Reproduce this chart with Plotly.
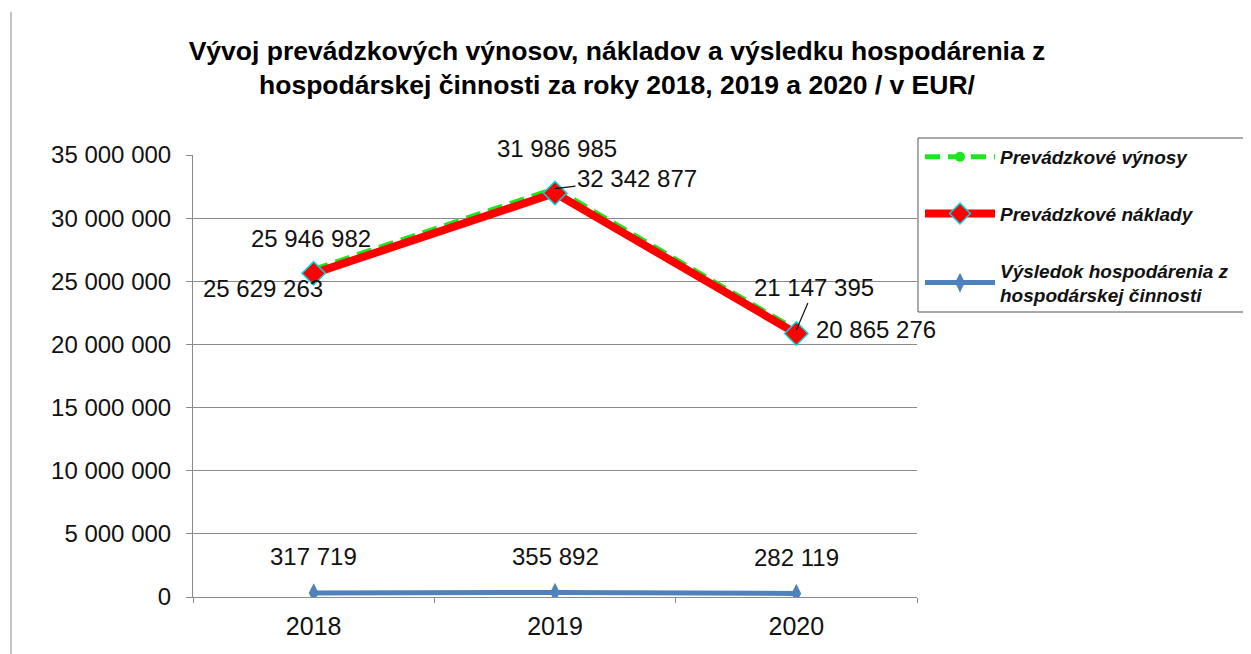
import plotly.graph_objects as go

years = ["2018", "2019", "2020"]
vynosy = [25946982, 32342877, 21147395]
naklady = [25629263, 31986985, 20865276]
vysledok = [317719, 355892, 282119]

names = ["Prevádzkové výnosy", "Prevádzkové náklady",
         "Výsledok hospodárenia z<br>hospodárskej činnosti"]
title_text = ("Vývoj prevádzkových výnosov, nákladov a výsledku hospodárenia z<br>"
              "hospodárskej činnosti za roky 2018, 2019 a 2020 / v EUR/")

FONT = "Liberation Sans, Arial, sans-serif"

# page body has an 8px margin; positions below are in figure pixels
L, R, T, B = 185, 909, 147, 589
W, H = 1251, 654
PW, PH = R - L, B - T


def fmt(v):
    return f"{v:,}".replace(",", " ")


fig = go.Figure()
fig.add_trace(go.Scatter(
    x=years, y=vynosy, name=names[0], mode="lines+markers", legendgroup="a",
    line=dict(color="#1ee61e", width=5, dash="15px,8px"),
    marker=dict(symbol="circle", size=10, color="#1ee61e"),
))
fig.add_trace(go.Scatter(
    x=years, y=naklady, name=names[1], mode="lines+markers", legendgroup="b",
    line=dict(color="#ff0000", width=8),
    marker=dict(symbol="diamond", size=18, color="#ff0000",
                line=dict(color="#00d8e0", width=1.5)),
))
fig.add_trace(go.Scatter(
    x=years, y=vysledok, name=names[2], mode="lines+markers", legendgroup="c",
    line=dict(color="#4f81bd", width=5),
    marker=dict(symbol="diamond-tall", size=14, color="#4f81bd"),
))

ann = []
lab_font = dict(family=FONT, size=24, color="#111111")
rev_pos = [dict(showarrow=False, xshift=-3, yshift=31),
           dict(showarrow=True, ax=82, ay=-10),
           dict(showarrow=True, ax=18, ay=-42)]
for i, (v, p) in enumerate(zip(vynosy, rev_pos)):
    a = dict(x=i, y=v, xref="x", yref="y", text=fmt(v), font=lab_font,
             arrowhead=0, arrowwidth=1.2, arrowcolor="#111111")
    a.update(p)
    ann.append(a)
cost_pos = [dict(xshift=-51, yshift=-15), dict(xshift=2, yshift=45),
            dict(xshift=80, yshift=4)]
for i, (v, p) in enumerate(zip(naklady, cost_pos)):
    a = dict(x=i, y=v, xref="x", yref="y", text=fmt(v), font=lab_font,
             showarrow=False)
    a.update(p)
    ann.append(a)
for i, v in enumerate(vysledok):
    ann.append(dict(x=i, y=v, xref="x", yref="y", text=fmt(v), font=lab_font,
                    showarrow=False, yshift=36))

fig.update_layout(
    width=W, height=H,
    margin=dict(l=L, r=W - R, t=T, b=H - B),
    paper_bgcolor="white", plot_bgcolor="white",
    separators=". ",
    font=dict(family=FONT, color="#111111"),
    title=dict(text=title_text, x=609 / W, xanchor="center", xref="container",
               y=1 - 52 / H, yanchor="top", yref="container",
               font=dict(family=FONT, size=26.5, weight="bold", color="#000000")),
    xaxis=dict(type="category", range=[-0.5, 2.5], showgrid=False,
               showline=True, linecolor="#8a8a8a", linewidth=1,
               ticks="outside", tickson="boundaries", ticklen=5,
               tickcolor="#8a8a8a", ticklabelstandoff=7,
               tickfont=dict(size=25, color="#111111")),
    yaxis=dict(range=[0, 35000000], dtick=5000000, tickformat=",.0f",
               showgrid=True, gridcolor="#8a8a8a", gridwidth=1,
               showline=True, linecolor="#8a8a8a", linewidth=1,
               ticks="outside", ticklen=6, tickcolor="#8a8a8a",
               ticklabelstandoff=10,
               tickfont=dict(size=24, color="#111111"), zeroline=False),
    legend=dict(x=(912 - L) / PW, xanchor="left", y=(B - 130) / PH, yanchor="top",
                traceorder="grouped", tracegroupgap=29, itemwidth=70,
                bgcolor="rgba(0,0,0,0)", borderwidth=0,
                font=dict(family=FONT, size=19, style="italic",
                          weight="bold", color="#111111")),
    annotations=ann,
    shapes=[
        dict(type="rect", xref="paper", yref="paper",
             x0=(910 - L) / PW, x1=(1260 - L) / PW,
             y0=(B - 304) / PH, y1=(B - 130) / PH,
             line=dict(color="#555555", width=1)),
        dict(type="line", xref="paper", yref="paper",
             x0=(3 - L) / PW, x1=(3 - L) / PW,
             y0=(B - 4) / PH, y1=(B - 660) / PH,
             line=dict(color="#8a8a8a", width=1)),
    ],
)

fig.write_html("out.html")
